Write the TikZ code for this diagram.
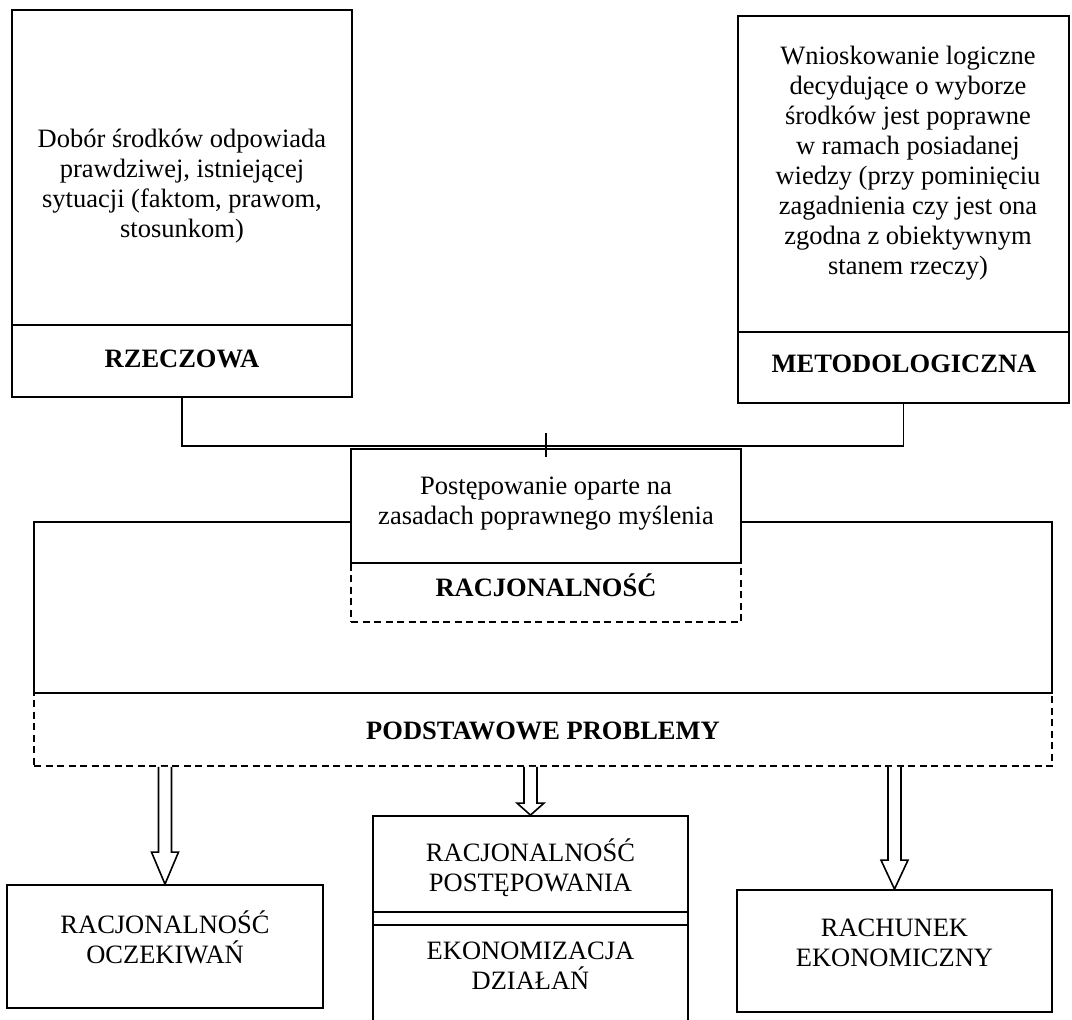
\documentclass[tikz,border=0pt]{standalone}
\usepackage{fontspec}
\setmainfont{Liberation Serif}
\usetikzlibrary{calc,fit}
% hollow block arrow: start point, tip, head length
\newcommand{\openarrow}[3]{%
  \draw[arrowline] ($(#1)+(-6.5,0)$) -- ($(#2)+(-6.5,-#3)$) -- ($(#2)+(-13.5,-#3)$)
    -- (#2) -- ($(#2)+(13.5,-#3)$) -- ($(#2)+(6.5,-#3)$) -- ($(#1)+(6.5,0)$);}
\begin{document}
\begin{tikzpicture}[x=1pt,y=-1pt,
  frame/.style={draw,line width=1.8pt,inner sep=0pt,fill=white},
  dframe/.style={draw,line width=1.6pt,inner sep=0pt,dash pattern=on 7pt off 4.5pt},
  link/.style={draw,line width=1.8pt},
  arrowline/.style={line width=1.6pt,fill=white,line join=miter},
  txt/.style={align=center,inner sep=0pt,font=\fontsize{26.5}{30}\selectfont},
  btxt/.style={txt,font=\fontsize{26.5}{30}\selectfont\bfseries}]
\useasboundingbox (0,0) rectangle (1072,1020);
\clip (0,0) rectangle (1072,1020);

% upper left: factual rationality
\node[frame,fit={(12,10) (352,325)}] (rzBox) {};
\node[frame,fit={(12,325) (352,397)}] (rzLab) {};
\node[txt] (rzTxt) at (182,186) {Dobór środków odpowiada\\prawdziwej, istniejącej\\sytuacji (faktom, prawom,\\stosunkom)};
\node[btxt] (rzName) at (182,359) {RZECZOWA};

% upper right: methodological rationality
\node[frame,fit={(738,16) (1069,332)}] (mtBox) {};
\node[frame,fit={(738,332) (1069,403)}] (mtLab) {};
\node[txt] (mtTxt) at (908,163) {Wnioskowanie logiczne\\decydujące o wyborze\\środków jest poprawne\\w ramach posiadanej\\wiedzy (przy pominięciu\\zagadnienia czy jest ona\\zgodna z obiektywnym\\stanem rzeczy)};
\node[btxt] (mtName) at (904,364) {METODOLOGICZNA};

% basic problems frame
\node[dframe,fit={(34,693) (1052,766)}] (bigDash) {};
\node[frame,fill=none,fit={(34,522) (1052,693)}] (big) {};
\node[btxt] (bigName) at (543,731) {PODSTAWOWE PROBLEMY};

% central box: rationality
\node[dframe,fit={(351,563) (741,622)}] (pstLab) {};
\node[frame,fit={(351,449) (741,563)}] (pst) {};
\node[txt] (pstTxt) at (546,504) {Postępowanie oparte na\\zasadach poprawnego myślenia};
\node[btxt] (pstName) at (546,585) {RACJONALNOŚĆ};

% connector joining both kinds of rationality
\coordinate (bus) at ($(pst.north)+(0,-2.5)$);
\draw[link] (rzLab.south) |- (bus) -| (mtLab.south);
\coordinate (tickTop) at ($(pst.north)+(0,-15)$);
\coordinate (tickBot) at ($(pst.north)+(0,9)$);
\draw[line width=1.4pt] (tickTop) -- (tickBot);

% lower boxes
\node[frame,fit={(7,885) (323,1008)}] (lb) {};
\node[txt] (lbTxt) at (165,937) {RACJONALNOŚĆ\\OCZEKIWAŃ};

\node[frame,fit={(373,816) (688,1040)}] (mb) {};
\coordinate (mbCut1) at ($(mb.north)+(0,97)$);
\coordinate (mbCut2) at ($(mb.north)+(0,110)$);
\draw[link] (mbCut1 -| mb.west) -- (mbCut1 -| mb.east);
\draw[link] (mbCut2 -| mb.west) -- (mbCut2 -| mb.east);
\node[txt] (mbTxt1) at (530.5,868) {RACJONALNOŚĆ\\POSTĘPOWANIA};
\node[txt] (mbTxt2) at (530.5,966) {EKONOMIZACJA\\DZIAŁAŃ};

\node[frame,fit={(737,890) (1052,1012)}] (rb) {};
\node[txt] (rbTxt) at (894.5,943) {RACHUNEK\\EKONOMICZNY};

% hollow arrows from the basic problems
\coordinate (a1) at (bigDash.south -| lb.north);
\coordinate (a2) at (bigDash.south -| mb.north);
\coordinate (a3) at (bigDash.south -| rb.north);
\openarrow{a1}{lb.north}{32}
\openarrow{a2}{mb.north}{12}
\openarrow{a3}{rb.north}{29}
\end{tikzpicture}
\end{document}
